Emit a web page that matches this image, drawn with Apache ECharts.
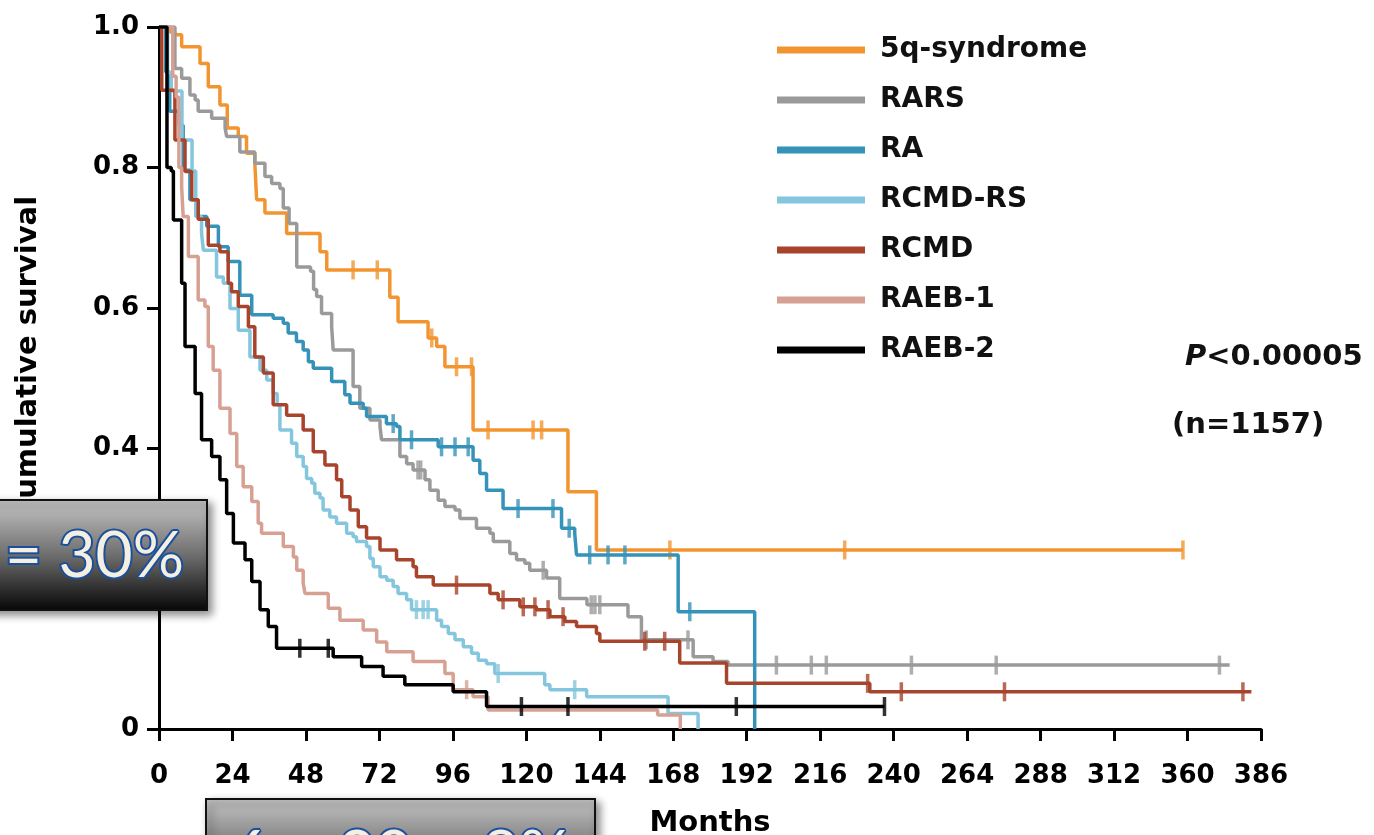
<!DOCTYPE html>
<html>
<head>
<meta charset="utf-8">
<title>MDS survival by WHO subtype</title>
<script src="https://cdn.jsdelivr.net/npm/echarts@6/dist/echarts.min.js"></script>
<style>
  html, body { margin: 0; padding: 0; background: #fff; }
  #main { width: 1374px; height: 835px; }
</style>
</head>
<body>
<div id="main"></div>
<script>
// groups, in legend order
var groupNames = ['5q-syndrome', 'RARS', 'RA', 'RCMD-RS', 'RCMD', 'RAEB-1', 'RAEB-2'];
var groupColors = ['#f29530', '#9a9a9a', '#3592b8', '#84c6dd', '#a8442c', '#d6a193', '#000000'];

// x tick labels as printed (the last two ticks are relabelled in the original)
var xTickLabels = ['0', '24', '48', '72', '96', '120', '144', '168', '192', '216', '240', '264', '288', '312', '360', '386'];

// Kaplan-Meier steps: [month of event, survival after it]
var q5Steps = [[0,1],[3.6,0.993],[5.2,0.989],[7.4,0.972],[13.4,0.948],[16.1,0.915],[19.9,0.889],[22.3,0.856],[25.9,0.844],[28.6,0.82],[31.3,0.806],[31.9,0.754],[34.6,0.735],[41.7,0.706],[52.6,0.68],[54.8,0.654],[75.4,0.615],[78.1,0.58],[87.9,0.557],[90.7,0.545],[93.4,0.516],[102.6,0.426],[133.6,0.338],[142.9,0.255],[357,0.255]];
var rarsSteps = [[0,1],[5.2,0.941],[7.4,0.927],[10.1,0.903],[11.8,0.896],[12.8,0.88],[17.2,0.87],[21.6,0.856],[22.1,0.844],[26.4,0.822],[31.3,0.806],[34.6,0.787],[36.8,0.777],[39.5,0.77],[40.6,0.742],[42.5,0.72],[45,0.658],[49.5,0.652],[50.5,0.626],[51.5,0.616],[53.1,0.592],[56.4,0.573],[56.9,0.54],[63.4,0.488],[65.6,0.457],[68.9,0.44],[72.2,0.431],[72.7,0.412],[78.7,0.388],[80.9,0.378],[83,0.369],[86.9,0.355],[88.5,0.34],[91.2,0.326],[93.4,0.317],[96.7,0.312],[98.3,0.3],[103.7,0.286],[108.1,0.279],[109.2,0.267],[114.6,0.25],[116.8,0.241],[119.5,0.236],[121.1,0.226],[126.6,0.215],[130.9,0.186],[139.8,0.177],[153.2,0.16],[157.6,0.127],[174.5,0.103],[181,0.096],[185.9,0.091],[374.9,0.091]];
var raSteps = [[0,1],[2.2,0.936],[3.5,0.88],[6.5,0.86],[7.9,0.796],[10.1,0.754],[12.8,0.73],[15.6,0.716],[19.4,0.687],[22.6,0.666],[26.4,0.618],[30.3,0.59],[37.3,0.585],[40.6,0.578],[42.2,0.564],[44.9,0.552],[47.1,0.54],[48.8,0.523],[50.4,0.514],[56.4,0.495],[60.7,0.476],[62.4,0.464],[66.7,0.457],[67.8,0.445],[74.3,0.435],[77.6,0.431],[78.7,0.412],[91.2,0.402],[102.6,0.383],[104.8,0.364],[107,0.34],[112.4,0.314],[131.5,0.286],[135.8,0.279],[136.4,0.248],[169.6,0.167],[194.6,0]];
var rcmdRsSteps = [[0,1],[2.8,0.935],[4,0.909],[7.5,0.839],[10.8,0.795],[12,0.73],[13.9,0.706],[14.5,0.682],[18.8,0.644],[21,0.635],[23.2,0.599],[25.9,0.568],[29.7,0.53],[33,0.511],[35.2,0.497],[37.3,0.478],[38.6,0.462],[39.5,0.426],[43.3,0.407],[45,0.388],[47.1,0.374],[48.2,0.357],[49.9,0.35],[50.9,0.336],[52.6,0.329],[53.6,0.312],[55.8,0.302],[58,0.293],[61.3,0.279],[63.4,0.274],[64.5,0.267],[67.8,0.26],[68.9,0.243],[70,0.231],[72.2,0.217],[74.4,0.212],[76.5,0.203],[78.1,0.193],[80.9,0.184],[82.5,0.17],[90.7,0.155],[92.3,0.146],[94.5,0.136],[96.7,0.127],[99.4,0.117],[102.1,0.108],[104.3,0.098],[107,0.093],[109.7,0.079],[126,0.063],[127.7,0.056],[139.7,0.046],[166.3,0.022],[176.1,0]];
var rcmdSteps = [[0,1],[0.9,0.91],[5.2,0.839],[8.5,0.794],[10.7,0.754],[12.8,0.726],[16.1,0.689],[19.9,0.68],[22.6,0.635],[23.7,0.623],[25.9,0.602],[29.2,0.573],[31.3,0.53],[34.1,0.507],[37.3,0.462],[41.7,0.447],[47.1,0.426],[50.4,0.395],[54.2,0.376],[58,0.355],[59.7,0.331],[62.4,0.312],[65.1,0.288],[67.8,0.272],[72.2,0.255],[77.6,0.241],[83,0.231],[84.1,0.217],[89.6,0.205],[108.1,0.193],[110.8,0.184],[117.9,0.174],[123.3,0.17],[127.7,0.16],[132.6,0.153],[136.4,0.146],[142.9,0.136],[144,0.125],[170.1,0.094],[185.4,0.065],[232.2,0.053],[382.6,0.053]];
var raeb1Steps = [[0,1],[4.5,0.93],[5.6,0.9],[6.5,0.8],[7.4,0.772],[7.9,0.73],[9.6,0.673],[12.8,0.611],[15,0.602],[16.1,0.545],[17.7,0.511],[19.9,0.457],[23.2,0.421],[25.4,0.374],[27.5,0.345],[30.3,0.324],[32.4,0.293],[33.5,0.279],[40.6,0.26],[43.9,0.245],[45,0.226],[47.1,0.208],[47.7,0.193],[55.3,0.172],[59.1,0.155],[66.7,0.141],[71.1,0.124],[74.4,0.11],[83,0.096],[93.4,0.079],[96.1,0.056],[102.6,0.046],[107.5,0.027],[162.9,0.02],[170.3,0]];
var raeb2Steps = [[0,1],[2.6,0.8],[4,0.795],[4.7,0.725],[7.4,0.635],[8.5,0.545],[11.8,0.478],[13.9,0.412],[17.2,0.388],[19.9,0.355],[22.1,0.307],[24.3,0.265],[28.1,0.241],[30.3,0.21],[33,0.17],[35.7,0.146],[38.4,0.115],[56.9,0.103],[66.2,0.089],[73.2,0.075],[80.3,0.063],[96.1,0.053],[107,0.032],[237,0.032]];

// censored observations (months)
var q5Censor = [63.4, 71.3, 89.1, 97.2, 102.1, 107.5, 122.2, 125, 166.9, 224, 357];
var rarsCensor = [84.6, 85.5, 125.5, 141.2, 142.4, 144, 159.2, 172.8, 201.7, 213.1, 218, 245.8, 273.5, 371.3];
var raCensor = [76.5, 82.5, 92.3, 96.7, 101, 117.3, 128.7, 134, 140.7, 146.7, 152.2, 173.4];
var rcmdRsCensor = [84.1, 86.3, 87.9, 110.8, 135.8];
var rcmdCensor = [97.2, 112.4, 119, 122.8, 127.1, 132, 158.7, 165.2, 231.5, 242.5, 276.2, 379.6];
var raeb1Censor = [100.5];
var raeb2Censor = [46, 55.3, 118.4, 133.6, 188.6, 237];

var allSteps = [q5Steps, rarsSteps, raSteps, rcmdRsSteps, rcmdSteps, raeb1Steps, raeb2Steps];
var allCensor = [q5Censor, rarsCensor, raCensor, rcmdRsCensor, rcmdCensor, raeb1Censor, raeb2Censor];

// the printed axis is squeezed after 312: tick 14 reads 360, tick 15 reads 386
function toAxis(m) {
  if (m <= 312) return m;
  if (m <= 360) return 312 + (m - 312) / 2;
  return 336 + (m - 360) * 24 / 26;
}
function survivalAt(steps, t) {
  var s = steps[0][1];
  for (var i = 0; i < steps.length; i++) {
    if (steps[i][0] <= t) s = steps[i][1]; else break;
  }
  return s;
}

var chart = echarts.init(document.getElementById('main'));
var font = '"DejaVu Sans", Arial, sans-serif';

var series = [];
// draw order: light ones first, black on top
var drawOrder = [5, 3, 4, 1, 2, 0, 6];
drawOrder.forEach(function (g) {
  series.push({
    name: groupNames[g],
    type: 'line',
    step: 'end',
    showSymbol: false,
    data: allSteps[g].map(function (p) { return [toAxis(p[0]), p[1]]; }),
    lineStyle: { color: groupColors[g], width: 3.5 },
    itemStyle: { color: groupColors[g] },
    z: 2 + g
  });
  series.push({
    name: groupNames[g] + ' censored',
    type: 'scatter',
    symbol: 'rect',
    symbolSize: [3.5, 19],
    data: allCensor[g].map(function (t) { return [toAxis(t), survivalAt(allSteps[g], t)]; }),
    itemStyle: { color: groupColors[g] },
    z: 2 + g
  });
});

function boxFill() {
  return new echarts.graphic.LinearGradient(0, 0, 0, 1, [
    { offset: 0, color: '#c6c6c6' },
    { offset: 0.5, color: '#6e6e6e' },
    { offset: 1, color: '#060606' }
  ]);
}

var option = {
  animation: false,
  backgroundColor: '#fff',
  grid: { left: 159, right: 113, top: 27, bottom: 106, containLabel: false, outerBoundsMode: 'none' },
  xAxis: {
    type: 'value',
    min: 0,
    max: 360,
    interval: 24,
    name: 'Months',
    nameLocation: 'middle',
    nameGap: 80,
    nameTextStyle: { fontFamily: font, fontWeight: 'bold', fontSize: 29, color: '#000' },
    axisLine: { lineStyle: { color: '#000', width: 3 } },
    axisTick: { show: true, inside: false, length: 12, lineStyle: { color: '#000', width: 3 } },
    axisLabel: {
      margin: 34,
      fontFamily: font, fontWeight: 'bold', fontSize: 26, color: '#000',
      formatter: function (v) { return xTickLabels[Math.round(v / 24)]; }
    },
    splitLine: { show: false }
  },
  yAxis: {
    type: 'value',
    min: 0,
    max: 1,
    interval: 0.2,
    axisLine: { show: true, lineStyle: { color: '#000', width: 3 } },
    axisTick: { show: true, inside: false, length: 12, lineStyle: { color: '#000', width: 3 } },
    axisLabel: {
      margin: 20,
      fontFamily: font, fontWeight: 'bold', fontSize: 26, color: '#000',
      formatter: function (v) { return v === 0 ? '0' : v.toFixed(1); }
    },
    splitLine: { show: false }
  },
  legend: {
    data: groupNames,
    orient: 'vertical',
    left: 777,
    top: 35,
    padding: 0,
    icon: 'rect',
    itemWidth: 88,
    itemHeight: 7,
    itemGap: 20,
    textStyle: { fontFamily: font, fontWeight: 'bold', fontSize: 28, color: '#111', lineHeight: 30, padding: [0, 0, 0, 10] }
  },
  graphic: [
    {
      type: 'text', z: 50,
      x: 28, y: 358, rotation: Math.PI / 2,
      style: { text: 'Cumulative survival', font: 'bold 29px ' + font, fill: '#000', textAlign: 'center', textVerticalAlign: 'middle' }
    },
    {
      type: 'text', z: 50,
      x: 1185, y: 357,
      style: {
        text: '{i|P}{b|<0.00005}',
        textVerticalAlign: 'middle',
        rich: {
          i: { fontFamily: font, fontWeight: 'bold', fontStyle: 'italic', fontSize: 29, fill: '#111' },
          b: { fontFamily: font, fontWeight: 'bold', fontSize: 29, fill: '#111' }
        }
      }
    },
    {
      type: 'text', z: 50,
      x: 1172, y: 425,
      style: { text: '(n=1157)', font: 'bold 29px ' + font, fill: '#111', textVerticalAlign: 'middle' }
    },
    {
      type: 'rect', z: 100,
      shape: { x: -20, y: 500, width: 227, height: 110 },
      style: { fill: boxFill(), stroke: '#111', lineWidth: 2, shadowBlur: 8, shadowOffsetX: 4, shadowOffsetY: 4, shadowColor: 'rgba(0,0,0,0.45)' }
    },
    {
      type: 'text', z: 101,
      x: 184, y: 556,
      style: { text: '= 30%', font: '64px Lato, "Open Sans", sans-serif', fill: '#f4efe0', stroke: '#1a4f9e', lineWidth: 4, strokeFirst: true, textAlign: 'right', textVerticalAlign: 'middle' }
    },
    {
      type: 'rect', z: 100,
      shape: { x: 206, y: 799, width: 389, height: 110 },
      style: { fill: boxFill(), stroke: '#111', lineWidth: 2, shadowBlur: 8, shadowOffsetX: 4, shadowOffsetY: 4, shadowColor: 'rgba(0,0,0,0.45)' }
    },
    {
      type: 'text', z: 101,
      x: 401, y: 855,
      style: { text: '6 \u2013 20 = 8%', font: '64px Lato, "Open Sans", sans-serif', fill: '#f4efe0', stroke: '#1a4f9e', lineWidth: 4, strokeFirst: true, textAlign: 'center', textVerticalAlign: 'middle' }
    }
  ],
  series: series
};

chart.setOption(option);
</script>
</body>
</html>
